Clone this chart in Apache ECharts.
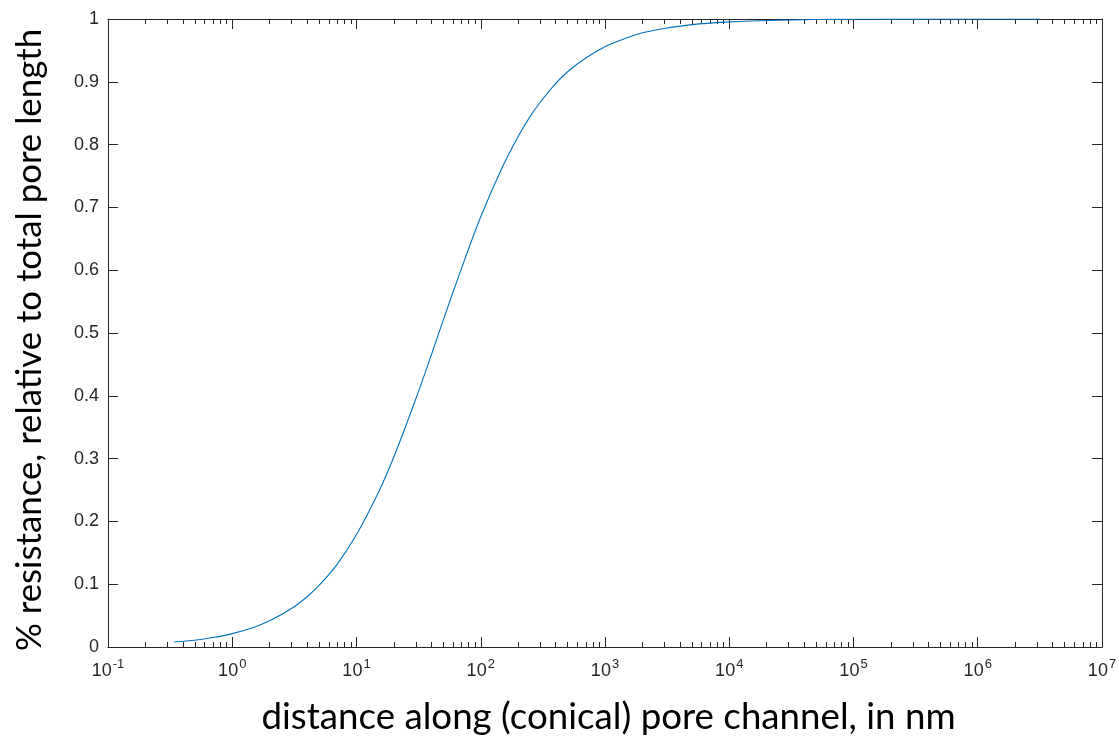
<!DOCTYPE html>
<html>
<head>
<meta charset="utf-8">
<script src="https://cdn.jsdelivr.net/npm/echarts@6/dist/echarts.min.js"></script>
<style>html,body{margin:0;padding:0;background:#fff;}#c{width:1119px;height:736px;}</style>
</head>
<body>
<div id="c"></div>
<script>
// distance along pore (nm)
var distance = [0.34, 0.5, 0.7, 1, 1.5, 2, 3, 4, 5, 7, 10, 15, 20, 30, 40, 50, 70, 100, 150, 200, 250, 300, 400, 500, 700, 1000, 1500, 2000, 3000, 5000, 7000, 10000, 20000, 50000, 100000, 1000000, 3200000];
// relative resistance
var resistance = [0.008, 0.0108, 0.015, 0.0213, 0.0316, 0.0417, 0.0612, 0.080, 0.098, 0.132, 0.179, 0.246, 0.303, 0.395, 0.465, 0.521, 0.603, 0.685, 0.765, 0.813, 0.845, 0.867, 0.897, 0.916, 0.938, 0.956, 0.970, 0.978, 0.985, 0.991, 0.9935, 0.9954, 0.9977, 0.9991, 0.9995, 1.0, 1.0];
var majorTicks = [0.1, 1, 10, 100, 1000, 10000, 100000, 1000000, 10000000];
var majorExp = ['-1', '0', '1', '2', '3', '4', '5', '6', '7'];
var xTitle = 'distance along (conical) pore channel, in nm';
var yTitle = '% resistance, relative to total pore length';

var minorTicks = [];
for (var k = -1; k <= 6; k++) {
  for (var m = 2; m <= 9; m++) {
    minorTicks.push(parseFloat((m * Math.pow(10, k)).toPrecision(6)));
  }
}
var data = distance.map(function (d, i) { return [d, resistance[i]]; });
var axisColor = '#262626';
var labelFont = '"Liberation Sans", Arial, sans-serif';
var titleFont = 'Lato, "Open Sans", sans-serif';

function xAx(pos, ticks, len, showLabel, showLine, extra) {
  var a = {
    type: 'log', logBase: 10, min: 0.1, max: 10000000, position: pos,
    axisLine: { show: showLine, lineStyle: { color: axisColor, width: 1 } },
    axisTick: { show: true, inside: true, length: len, customValues: ticks, lineStyle: { color: axisColor, width: 1 } },
    axisLabel: { show: false },
    splitLine: { show: false },
    minorTick: { show: false }
  };
  if (showLabel) {
    a.axisLabel = {
      show: true, customValues: majorTicks, margin: 11,
      formatter: function (v) {
        var idx = majorTicks.findIndex(function (t) { return Math.abs(Math.log10(t) - Math.log10(v)) < 1e-6; });
        return '{b|10}{s|' + majorExp[idx] + '}';
      },
      rich: {
        b: { fontSize: 18, color: axisColor, fontFamily: labelFont, lineHeight: 22, verticalAlign: 'bottom' },
        s: { fontSize: 13, color: axisColor, fontFamily: labelFont, lineHeight: 22, verticalAlign: 'top', padding: [0, 0, 0, 1] }
      }
    };
  }
  if (extra) Object.assign(a, extra);
  return a;
}

function yAx(pos, showLabel) {
  return {
    type: 'value', min: 0, max: 1, interval: 0.1, position: pos,
    axisLine: { show: true, lineStyle: { color: axisColor, width: 1 } },
    axisTick: { show: true, inside: true, length: 10, lineStyle: { color: axisColor, width: 1 } },
    axisLabel: {
      show: showLabel, color: axisColor, fontSize: 18, fontFamily: labelFont, margin: 9,
      formatter: function (v) { return String(Math.round(v * 10) / 10); }
    },
    splitLine: { show: false }
  };
}

var chart = echarts.init(document.getElementById('c'), null, { renderer: 'canvas' });
var xAxes = [
  xAx('bottom', majorTicks, 10, true, true, {
    name: xTitle, nameLocation: 'middle', nameGap: 52,
    nameTextStyle: { fontSize: 36.7, color: '#000', fontFamily: titleFont, padding: [0, 0, 0, 7] }
  }),
  xAx('bottom', minorTicks, 5, false, false),
  xAx('top', majorTicks, 10, false, true),
  xAx('top', minorTicks, 5, false, false)
];
var y0 = yAx('left', true);
y0.name = yTitle; y0.nameLocation = 'middle'; y0.nameGap = 61; y0.nameRotate = 90;
y0.nameTextStyle = { fontSize: 34.8, color: '#000', fontFamily: titleFont, padding: [0, 14, 0, 0] };
var y1 = yAx('right', false);

chart.setOption({
  animation: false,
  backgroundColor: '#fff',
  grid: { left: 108, right: 17, top: 19, bottom: 89, containLabel: false, outerBoundsMode: 'none' },
  xAxis: xAxes,
  yAxis: [y0, y1],
  series: [{
    type: 'line', xAxisIndex: 0, yAxisIndex: 0, data: data,
    smooth: 0.3, showSymbol: false, symbol: 'none',
    lineStyle: { color: '#0072BD', width: 1.1 }
  }]
});
</script>
</body>
</html>
